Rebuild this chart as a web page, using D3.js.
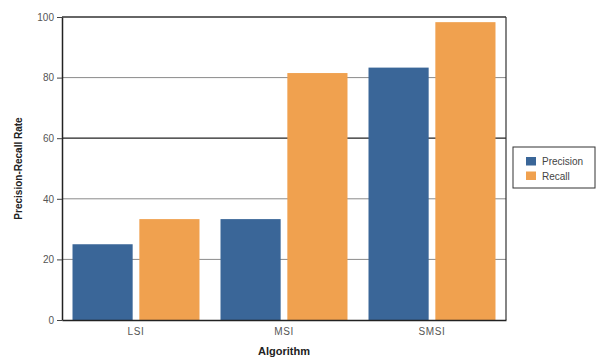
<!DOCTYPE html>
<html><head><meta charset="utf-8">
<script src="https://cdn.jsdelivr.net/npm/d3@7"></script>
<style>body{margin:0;background:#fff}svg{display:block;font-family:"Liberation Sans",Arial,sans-serif}</style>
</head><body><svg id="c" width="597" height="358"></svg>
<script>
const categories = ["LSI", "MSI", "SMSI"];
const seriesNames = ["Precision", "Recall"];
const precision = [25, 33.3, 83.3];
const recall = [33.3, 81.5, 98.3];
const yTicks = [0, 20, 40, 60, 80, 100];
const colors = ["#3a6698", "#f0a14f"];

const svg = d3.select("#c");
const m = {l: 62, r: 506, t: 17, b: 320};
const x = d3.scaleBand().domain(categories).range([m.l, m.r]).paddingInner(0.142).paddingOuter(0.071);
const xs = d3.scaleBand().domain(seriesNames).range([0, x.bandwidth()]).paddingInner(0.1);
const y = d3.scaleLinear().domain([0, 100]).range([m.b, m.t]);

// gridlines
svg.append("g").selectAll("line").data(yTicks.filter(d => d > 0 && d < 100)).join("line")
  .attr("x1", m.l).attr("x2", m.r).attr("y1", d => y(d)).attr("y2", d => y(d))
  .attr("stroke", d => d === 60 ? "#222" : "#8a8a8a").attr("stroke-width", d => d === 60 ? 1.3 : 1);

// bars
const data = categories.map((c, i) => ({c, vals: [precision[i], recall[i]]}));
const g = svg.append("g").selectAll("g").data(data).join("g").attr("transform", d => `translate(${x(d.c)},0)`);
g.selectAll("rect").data(d => d.vals.map((v, j) => ({s: seriesNames[j], v, j}))).join("rect")
  .attr("x", d => xs(d.s)).attr("width", xs.bandwidth())
  .attr("y", d => y(d.v)).attr("height", d => y(0) - y(d.v))
  .attr("fill", d => colors[d.j]);

// frame
svg.append("line").attr("x1", m.l).attr("x2", m.r).attr("y1", m.t).attr("y2", m.t).attr("stroke", "#333").attr("stroke-width", 1.5);
svg.append("line").attr("x1", m.r).attr("x2", m.r).attr("y1", m.t).attr("y2", m.b).attr("stroke", "#333").attr("stroke-width", 1.2);

// y axis
const ya = svg.append("g").attr("transform", `translate(${m.l},0)`)
  .call(d3.axisLeft(y).tickValues(yTicks).tickSize(5).tickPadding(3).tickSizeOuter(0));
ya.select(".domain").attr("stroke", "#222").attr("stroke-width", 1.5);
ya.selectAll(".tick line").attr("stroke", "#444");
ya.selectAll("text").attr("font-size", 10).attr("fill", "#555").attr("font-family", "Liberation Sans, Arial, sans-serif");

// x axis
const xa = svg.append("g").attr("transform", `translate(0,${m.b})`)
  .call(d3.axisBottom(x).tickSize(0).tickPadding(8));
xa.select(".domain").attr("stroke", "#222").attr("stroke-width", 1.5);
xa.selectAll("text").attr("font-size", 10).attr("fill", "#555").attr("letter-spacing", 0.6).attr("font-family", "Liberation Sans, Arial, sans-serif");

// titles
svg.append("text").attr("x", (m.l + m.r) / 2).attr("y", 355).attr("text-anchor", "middle")
  .attr("font-size", 11).attr("font-weight", "bold").attr("fill", "#222").text("Algorithm");
svg.append("text").attr("transform", `translate(22,${(m.t + m.b) / 2}) rotate(-90)`).attr("text-anchor", "middle")
  .attr("font-size", 10).attr("font-weight", "bold").attr("fill", "#222").text("Precision-Recall Rate");

// legend
const lg = svg.append("g").attr("transform", "translate(513,147)");
lg.append("rect").attr("x", 0).attr("y", 0).attr("width", 82).attr("height", 41).attr("fill", "#fff").attr("stroke", "#333");
seriesNames.forEach((s, i) => {
  lg.append("rect").attr("x", 13).attr("y", 10 + i * 14.5).attr("width", 10).attr("height", 8.5).attr("fill", colors[i]);
  lg.append("text").attr("x", 29).attr("y", 18 + i * 14.5).attr("font-size", 10).attr("fill", "#444").text(s);
});
</script></body></html>
